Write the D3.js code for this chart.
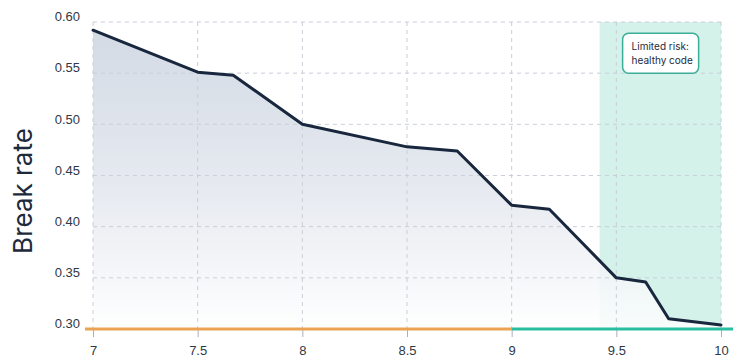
<!DOCTYPE html>
<html>
<head>
<meta charset="utf-8">
<script src="https://cdn.jsdelivr.net/npm/d3@7"></script>
<style>
  html, body { margin: 0; padding: 0; background: #fff; }
  svg { display: block; font-family: Inter, "Noto Sans", sans-serif; }
</style>
</head>
<body>
<svg id="chart" width="733" height="363"></svg>
<script>
// values
const xs = [7, 7.5, 7.67, 8, 8.5, 8.74, 9, 9.18, 9.5, 9.64, 9.75, 10];
const rates = [0.592, 0.551, 0.548, 0.500, 0.478, 0.474, 0.421, 0.417, 0.350, 0.346, 0.310, 0.304];
const xTicks = [7, 7.5, 8, 8.5, 9, 9.5, 10];
const yTicks = [0.30, 0.35, 0.40, 0.45, 0.50, 0.55, 0.60];
const healthyBand = [9.42, 10];
const riskSplit = [7, 9, 10];
const noteLines = ["Limited risk:", "healthy code"];

const data = xs.map((x, i) => ({ x: x, y: rates[i] }));

const svg = d3.select('#chart');
const width = 733, height = 363;
const margin = { top: 22, right: 12, bottom: 34, left: 93 };

const x = d3.scaleLinear().domain([7, 10]).range([margin.left, width - margin.right]);
const y = d3.scaleLinear().domain([0.30, 0.60]).range([height - margin.bottom, margin.top]);

const gridColor = "#c9ced8";
const lineColor = "#18273d";

// gradient for area
const defs = svg.append('defs');
const grad = defs.append('linearGradient')
  .attr('id', 'areaGrad').attr('x1', 0).attr('y1', 0).attr('x2', 0).attr('y2', 1);
grad.append('stop').attr('offset', '0%').attr('stop-color', '#cbd4e0');
grad.append('stop').attr('offset', '55%').attr('stop-color', '#e3e7ee');
grad.append('stop').attr('offset', '100%').attr('stop-color', '#ffffff');

// healthy band
svg.append('rect')
  .attr('x', x(healthyBand[0]))
  .attr('y', y(0.60))
  .attr('width', x(healthyBand[1]) - x(healthyBand[0]))
  .attr('height', y(0.30) - y(0.60))
  .attr('fill', '#d4f1ea');

// area
const area = d3.area()
  .x(d => x(d.x))
  .y0(y(0.30))
  .y1(d => y(d.y));

svg.append('path')
  .datum(data)
  .attr('d', area)
  .attr('fill', 'url(#areaGrad)')
  .attr('opacity', 0.85);

// grid
svg.append('g').selectAll('line')
  .data(yTicks.filter(d => d > 0.3))
  .join('line')
  .attr('x1', x(7)).attr('x2', x(10))
  .attr('y1', d => y(d)).attr('y2', d => y(d))
  .attr('stroke', gridColor).attr('stroke-dasharray', '4,4').attr('stroke-width', 1);

svg.append('g').selectAll('line')
  .data(xTicks)
  .join('line')
  .attr('x1', d => x(d)).attr('x2', d => x(d))
  .attr('y1', y(0.60)).attr('y2', y(0.30))
  .attr('stroke', gridColor).attr('stroke-dasharray', '4,4').attr('stroke-width', 1);

// x axis
const xAxis = svg.append('g')
  .attr('transform', `translate(0,${y(0.30)})`)
  .call(d3.axisBottom(x).tickValues(xTicks).tickSize(8).tickPadding(9).tickFormat(d3.format('')));
xAxis.select('.domain').remove();
xAxis.selectAll('.tick line').attr('stroke', '#a9b1bf');
xAxis.selectAll('.tick text').attr('fill', '#2f3846').attr('font-size', 13);

// y axis
const yAxis = svg.append('g')
  .attr('transform', `translate(${margin.left},0)`)
  .call(d3.axisLeft(y).tickValues(yTicks).tickSize(0).tickPadding(13).tickFormat(d3.format('.2f')));
yAxis.select('.domain').remove();
yAxis.selectAll('.tick text').attr('fill', '#2f3846').attr('font-size', 13).attr('dy', '-0.1em');

// risk baseline
svg.append('line')
  .attr('x1', x(riskSplit[0]) - 8).attr('x2', x(riskSplit[1]))
  .attr('y1', y(0.30)).attr('y2', y(0.30))
  .attr('stroke', '#eba353').attr('stroke-width', 3);
svg.append('line')
  .attr('x1', x(riskSplit[1])).attr('x2', width)
  .attr('y1', y(0.30)).attr('y2', y(0.30))
  .attr('stroke', '#2bbd9f').attr('stroke-width', 3);

// line
svg.append('path')
  .datum(data)
  .attr('d', d3.line().x(d => x(d.x)).y(d => y(d.y)))
  .attr('fill', 'none')
  .attr('stroke', lineColor)
  .attr('stroke-width', 3)
  .attr('stroke-linejoin', 'round')
  .attr('stroke-linecap', 'round');

// y label
svg.append('text')
  .attr('transform', `translate(32,191) rotate(-90)`)
  .attr('text-anchor', 'middle')
  .attr('fill', '#1d2a3c')
  .attr('font-size', 26)
  .text('Break rate');

// note box
const note = svg.append('g').attr('transform', `translate(${x(9.53)},${y(0.589)})`);
note.append('rect')
  .attr('width', 76).attr('height', 40).attr('rx', 6)
  .attr('fill', '#ffffff').attr('stroke', '#3aae96').attr('stroke-width', 1.5);
note.selectAll('text')
  .data(noteLines)
  .join('text')
  .attr('x', 9).attr('y', (d, i) => 17 + i * 14)
  .attr('fill', '#1d2a3c').attr('font-size', 10)
  .text(d => d);
</script>
</body>
</html>
